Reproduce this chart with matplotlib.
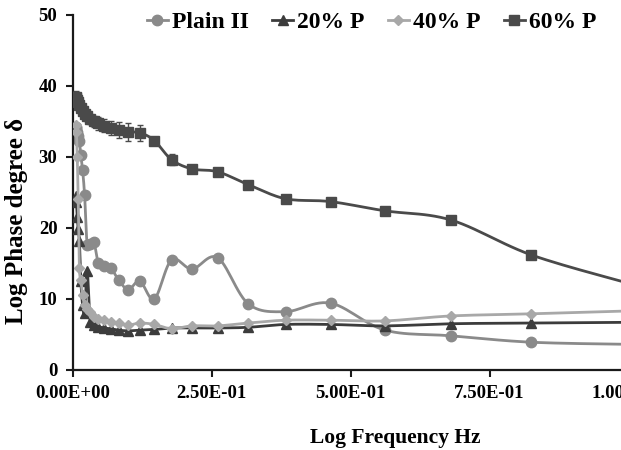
import numpy as np
import matplotlib
matplotlib.use("Agg")
import matplotlib.pyplot as plt
from matplotlib.lines import Line2D
from matplotlib.font_manager import FontProperties

# ---------------- data ----------------
freq = [0.00562, 0.00681, 0.00825, 0.0100, 0.0121, 0.0147, 0.0178, 0.0215,
        0.0261, 0.0316, 0.0383, 0.0464, 0.0562, 0.0681, 0.0825, 0.100,
        0.121, 0.147, 0.178, 0.215, 0.261, 0.316, 0.383, 0.464, 0.562,
        0.681, 0.825, 1.000]

plain_ii = [34.0, 34.2, 33.5, 33.0, 32.2, 30.2, 28.2, 24.6,
            17.6, 17.8, 18.0, 15.0, 14.6, 14.4, 12.7, 11.3,
            12.5, 10.0, 15.5, 14.2, 15.8, 9.3, 8.2, 9.4, 5.6,
            4.8, 3.9, 3.6]

p20 = [24.5, 23.7, 21.5, 19.8, 18.2, 12.5, 9.2, 8.0,
       13.9, 6.8, 6.3, 6.1, 5.9, 5.8, 5.6, 5.5,
       5.6, 5.7, 5.9, 5.9, 5.9, 6.0, 6.4, 6.4, 6.2,
       6.5, 6.6, 6.7]

p40 = [34.5, 33.5, 30.0, 24.0, 14.4, 12.7, 10.5, 9.2,
       8.6, 8.2, 7.5, 7.2, 7.0, 6.8, 6.6, 6.3,
       6.6, 6.4, 5.8, 6.2, 6.2, 6.6, 7.0, 7.0, 6.9,
       7.6, 7.9, 8.3]

p60 = [38.5, 38.3, 38.0, 37.7, 37.3, 36.9, 36.5, 36.1,
       35.7, 35.3, 35.0, 34.7, 34.4, 34.1, 33.8, 33.5,
       33.4, 32.3, 29.6, 28.3, 27.9, 26.1, 24.1, 23.7, 22.4,
       21.1, 16.2, 12.2]

p60_err = [0.8, 0.8, 0.8, 0.7, 0.7, 0.7, 0.7, 0.7,
           0.7, 0.7, 0.8, 0.9, 0.9, 1.0, 1.1, 1.2,
           1.1, 0.5, 0.8, 0.6, 0.6, 0.3, 0.6, 0.4, 0.4,
           0.5, 0.4, 0.4]

labels = ["Plain II", "20% P", "40% P", "60% P"]
x_ticks = [0.0, 0.25, 0.5, 0.75, 1.0]
y_ticks = [0, 10, 20, 30, 40, 50]

# ---------------- style ----------------
colors = ["#8a8a8a", "#3c3c3c", "#a8a8a8", "#4a4a4a"]
markers = ["o", "^", "D", "s"]
msizes = [7.5, 7.0, 5.5, 7.5]
series = [plain_ii, p20, p40, p60]

plt.rcParams["font.family"] = ["Liberation Serif", "DejaVu Serif"]
plt.rcParams["font.weight"] = "bold"

fig = plt.figure(figsize=(6.21, 4.5), dpi=100)
ax = fig.add_axes([0.117, 0.178, 0.895, 0.789])
ax.set_xlim(0, 1.0)
ax.set_ylim(0, 50)


def smooth(xs, ys, n=14):
    pts = ax.transData.transform(np.column_stack([xs, ys]))
    P = np.vstack([pts[0], pts, pts[-1]])
    out = []
    t = np.linspace(0, 1, n)[:, None]
    for i in range(1, len(P) - 2):
        p0, p1, p2, p3 = P[i - 1], P[i], P[i + 1], P[i + 2]
        c1 = p1 + (p2 - p0) / 6.0
        c2 = p2 - (p3 - p1) / 6.0
        seg = ((1 - t) ** 3) * p1 + 3 * ((1 - t) ** 2) * t * c1 \
            + 3 * (1 - t) * (t ** 2) * c2 + (t ** 3) * p2
        out.append(seg)
    curve = np.vstack(out)
    return ax.transData.inverted().transform(curve)


for i, (ys, c, m, ms) in enumerate(zip(series, colors, markers, msizes)):
    curve = smooth(freq, ys)
    z = 2 + i
    ax.plot(curve[:, 0], curve[:, 1], color=c, lw=2.0, zorder=z,
            solid_capstyle="round")
    if i == 3:
        ax.errorbar(freq, ys, yerr=p60_err, fmt="none", ecolor=c,
                    elinewidth=1.0, capsize=2.5, capthick=1.0, zorder=z)
    ax.plot(freq, ys, linestyle="none", marker=m, markersize=ms,
            markerfacecolor=c, markeredgecolor=c, zorder=z + 0.5)

# axes styling
for s in ["top", "right"]:
    ax.spines[s].set_visible(False)
for s in ["left", "bottom"]:
    ax.spines[s].set_linewidth(1.6)
    ax.spines[s].set_color("#1a1a1a")

ax.set_xticks(x_ticks)
ax.set_xticklabels([f"{v:.2E}" for v in x_ticks])
ax.set_yticks(y_ticks)
ax.tick_params(direction="out", length=5, width=1.5, color="#1a1a1a",
               labelsize=13.5, pad=6)
for lab in ax.get_xticklabels() + ax.get_yticklabels():
    lab.set_fontweight("bold")

ax.set_xlabel("Log Frequency Hz", fontsize=15.5, fontweight="bold")
ax.set_ylabel("Log Phase degree δ", fontsize=18, fontweight="bold")
ax.xaxis.set_label_coords(0.581, -0.163)
ax.yaxis.set_label_coords(-0.080, 0.42)

# legend
handles = [Line2D([], [], color=c, lw=2.0, marker=m, markersize=ms,
                  markerfacecolor=c, markeredgecolor=c)
           for c, m, ms in zip(colors, markers, msizes)]
fig.legend(handles, labels, loc="center", bbox_to_anchor=(0.598, 0.951),
           ncol=4, frameon=False,
           prop=FontProperties(family="Liberation Serif", weight="bold", size=17),
           handlelength=0.9, handletextpad=0.15, columnspacing=1.0,
           borderpad=0.0)

fig.savefig("out.png", dpi=100)
